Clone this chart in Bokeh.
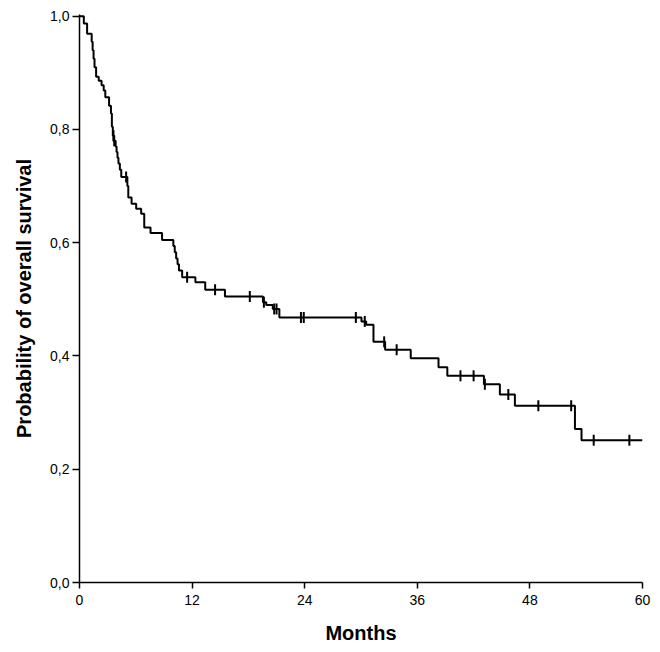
import numpy as np
from bokeh.plotting import figure
from bokeh.models import Range1d, FixedTicker
from bokeh.embed import file_html
from bokeh.resources import INLINE

# Kaplan-Meier event times (months) and survival probability after each event
event_t = [0.46, 0.81, 1.30, 1.40, 1.50, 1.60, 1.77, 2.05, 2.35, 2.58, 2.75, 3.15, 3.35,
           3.45, 3.55, 3.65, 3.85, 3.95, 4.05, 4.15, 4.30, 4.45, 5.10, 5.20, 5.55, 6.04,
           6.57, 6.90, 7.57, 8.80, 10.00, 10.15, 10.30, 10.45, 10.60, 10.94, 12.35, 13.40,
           15.50, 19.55, 19.90, 20.60, 21.30, 30.05, 30.55, 31.33, 32.57, 35.30, 38.26,
           39.20, 43.10, 44.80, 46.40, 52.80, 53.50]
event_s = [0.987, 0.969, 0.955, 0.940, 0.925, 0.910, 0.893, 0.886, 0.878, 0.869, 0.857,
           0.842, 0.828, 0.805, 0.789, 0.780, 0.770, 0.760, 0.750, 0.740, 0.729, 0.716,
           0.700, 0.680, 0.669, 0.660, 0.651, 0.627, 0.617, 0.605, 0.594, 0.583, 0.572,
           0.562, 0.551, 0.539, 0.530, 0.517, 0.505, 0.495, 0.490, 0.483, 0.468, 0.461,
           0.455, 0.425, 0.411, 0.396, 0.380, 0.365, 0.350, 0.332, 0.312, 0.271, 0.251]
# censored observations (months)
censor_t = [3.62, 3.70, 4.97, 11.47, 14.45, 18.15, 19.65, 20.75, 21.0, 23.6, 23.9, 29.45,
            30.4, 32.47, 33.8, 40.6, 42.0, 43.2, 45.7, 48.9, 52.4, 54.8, 58.6]
end_time = 60.0

x_ticks = [0, 12, 24, 36, 48, 60]
y_ticks = [0.0, 0.2, 0.4, 0.6, 0.8, 1.0]
y_tick_labels = ["0,0", "0,2", "0,4", "0,6", "0,8", "1,0"]

# step function
xs = [0.0] + event_t + [end_time]
ys = [1.0] + event_s + [event_s[-1]]
et = np.array(event_t)
es = np.array(event_s)
idx = np.searchsorted(et, np.array(censor_t), side="right") - 1
censor_s = [1.0 if i < 0 else float(es[i]) for i in idx]

p = figure(width=660, height=652, output_backend="svg", toolbar_location=None,
           x_range=Range1d(0, 60), y_range=Range1d(0, 1.003),
           min_border_left=79, min_border_right=18, min_border_top=14, min_border_bottom=70)
p.background_fill_color = "white"
p.border_fill_color = "white"
p.outline_line_color = None
p.grid.grid_line_color = None

p.step(xs, ys, mode="after", line_color="black", line_width=2)
p.scatter(censor_t, censor_s, marker="dash", angle=np.pi / 2, size=11,
          line_color="black", line_width=2)

font = "Liberation Sans"
for ax in (p.xaxis[0], p.yaxis[0]):
    ax.axis_line_color = "black"
    ax.axis_line_width = 1.5
    ax.major_tick_line_color = "black"
    ax.major_tick_line_width = 1.5
    ax.major_tick_in = 0
    ax.minor_tick_line_color = None
    ax.major_label_text_font = font
    ax.major_label_text_font_size = "14px"
    ax.major_label_text_color = "black"
    ax.axis_label_text_font = font
    ax.axis_label_text_font_size = "20px"
    ax.axis_label_text_font_style = "bold"
    ax.axis_label_text_color = "black"

p.xaxis.ticker = FixedTicker(ticks=x_ticks)
p.xaxis.major_tick_out = 6
p.xaxis.major_label_standoff = 6
p.xaxis.axis_label = "Months"
p.xaxis.axis_label_standoff = 14

p.yaxis.ticker = FixedTicker(ticks=y_ticks)
p.yaxis.major_label_overrides = {t: l for t, l in zip(y_ticks, y_tick_labels)}
p.yaxis.major_tick_out = 7
p.yaxis.major_label_standoff = 3
p.yaxis.axis_label = "Probability of overall survival"
p.yaxis.axis_label_standoff = 12

open("out.html", "w").write(file_html(p, INLINE))
